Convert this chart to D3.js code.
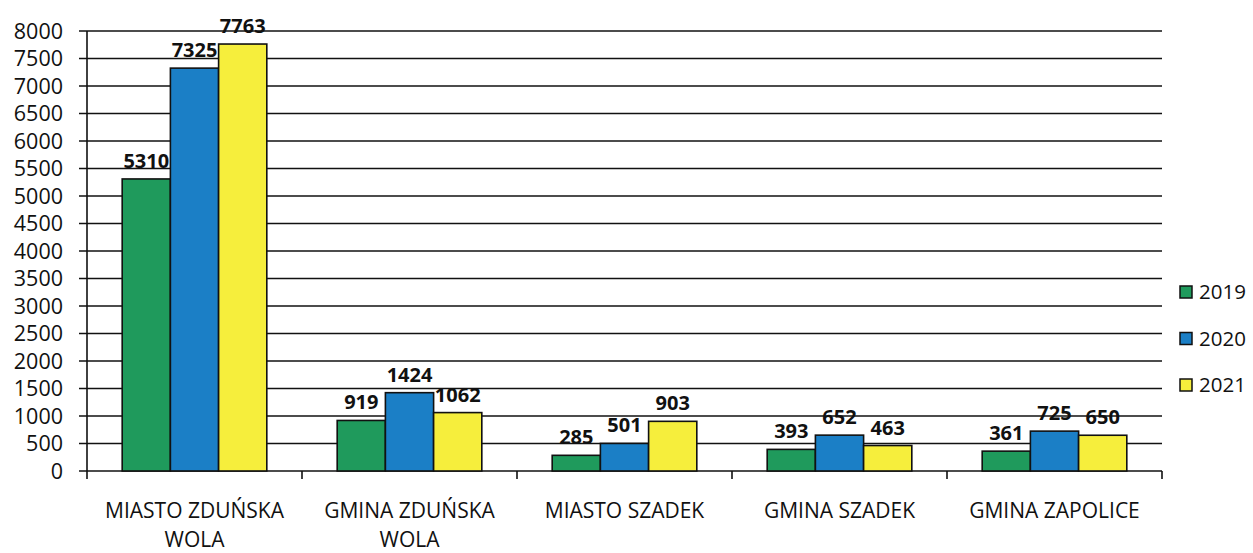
<!DOCTYPE html>
<html>
<head>
<meta charset="utf-8">
<script src="https://cdn.jsdelivr.net/npm/d3@7"></script>
<style>
  body { margin: 0; background: #fff; }
  svg { display: block; }
</style>
</head>
<body>
<svg id="chart" width="1253" height="553"></svg>
<script>
const categories = [['MIASTO ZDUŃSKA', 'WOLA'], ['GMINA ZDUŃSKA', 'WOLA'], ['MIASTO SZADEK'], ['GMINA SZADEK'], ['GMINA ZAPOLICE']];
const years = ['2019', '2020', '2021'];
const values2019 = [5310, 919, 285, 393, 361];
const values2020 = [7325, 1424, 501, 652, 725];
const values2021 = [7763, 1062, 903, 463, 650];
const yTicks = d3.range(0, 8001, 500);

const colors = ['#1f9a5c', '#1b7fc6', '#f6ee3c'];
const series = [values2019, values2020, values2021];

const svg = d3.select('#chart');
const plotLeft = 87, plotRight = 1162, plotTop = 31, plotBottom = 471;

const x = d3.scaleBand().domain(d3.range(categories.length)).range([plotLeft, plotRight]).paddingInner(0).paddingOuter(0);
const xInner = d3.scaleBand().domain(years).range([0, x.bandwidth()]).paddingOuter(0.73).paddingInner(0);
const y = d3.scaleLinear().domain([0, 8000]).range([plotBottom, plotTop]);

// grid lines
svg.append('g')
  .selectAll('line')
  .data(yTicks)
  .join('line')
  .attr('x1', plotLeft - 8)
  .attr('x2', plotRight)
  .attr('y1', d => y(d))
  .attr('y2', d => y(d))
  .attr('stroke', '#111')
  .attr('stroke-width', 1.6);

// y labels
svg.append('g')
  .selectAll('text')
  .data(yTicks)
  .join('text')
  .attr('x', 63)
  .attr('y', d => y(d))
  .attr('dy', '0.36em')
  .attr('text-anchor', 'end')
  .style('font-family', 'Open Sans, sans-serif')
  .style('font-size', '21.5px')
  .style('fill', '#111')
  .text(d => d);

// y axis line
svg.append('line')
  .attr('x1', plotLeft).attr('x2', plotLeft)
  .attr('y1', plotTop).attr('y2', plotBottom)
  .attr('stroke', '#111').attr('stroke-width', 1.6);

// x ticks
svg.append('g')
  .selectAll('line')
  .data(d3.range(categories.length + 1))
  .join('line')
  .attr('x1', d => plotLeft + d * x.bandwidth())
  .attr('x2', d => plotLeft + d * x.bandwidth())
  .attr('y1', plotBottom)
  .attr('y2', plotBottom + 8)
  .attr('stroke', '#111').attr('stroke-width', 1.6);

// bars
const groups = svg.append('g')
  .selectAll('g')
  .data(categories.map((c, i) => i))
  .join('g')
  .attr('transform', i => `translate(${x(i)},0)`);

groups.selectAll('rect')
  .data(i => years.map((yr, k) => ({ yr, k, v: series[k][i] })))
  .join('rect')
  .attr('x', d => xInner(d.yr))
  .attr('width', xInner.bandwidth())
  .attr('y', d => y(d.v))
  .attr('height', d => plotBottom - y(d.v))
  .attr('fill', d => colors[d.k])
  .attr('stroke', '#111')
  .attr('stroke-width', 1.6);

groups.selectAll('text')
  .data(i => years.map((yr, k) => ({ yr, k, v: series[k][i] })))
  .join('text')
  .attr('x', d => xInner(d.yr) + xInner.bandwidth() / 2)
  .attr('y', d => y(d.v) - 11)
  .attr('text-anchor', 'middle')
  .style('font-family', 'Open Sans, sans-serif')
  .style('font-weight', '700')
  .style('font-size', '20px')
  .style('fill', '#111')
  .text(d => d.v);

// category labels
svg.append('g')
  .selectAll('text')
  .data(categories)
  .join('text')
  .attr('x', (d, i) => x(i) + x.bandwidth() / 2)
  .attr('y', 518)
  .attr('text-anchor', 'middle')
  .style('font-family', 'Open Sans, sans-serif')
  .style('font-size', '21px')
  .style('fill', '#111')
  .selectAll('tspan')
  .data(d => d)
  .join('tspan')
  .attr('x', function () { return this.parentNode.getAttribute('x'); })
  .attr('dy', (d, j) => j === 0 ? 0 : 28.6)
  .text(d => d);

// legend
const legend = svg.append('g')
  .selectAll('g')
  .data(years)
  .join('g')
  .attr('transform', (d, i) => `translate(1180,${292 + i * 46.5})`);

legend.append('rect')
  .attr('x', 0).attr('y', -6)
  .attr('width', 12).attr('height', 12)
  .attr('fill', (d, i) => colors[i])
  .attr('stroke', '#111').attr('stroke-width', 1.5);

legend.append('text')
  .attr('x', 19)
  .attr('dy', '0.36em')
  .style('font-family', 'Open Sans, sans-serif')
  .style('font-size', '20.5px')
  .style('fill', '#111')
  .text(d => d);
</script>
</body>
</html>
